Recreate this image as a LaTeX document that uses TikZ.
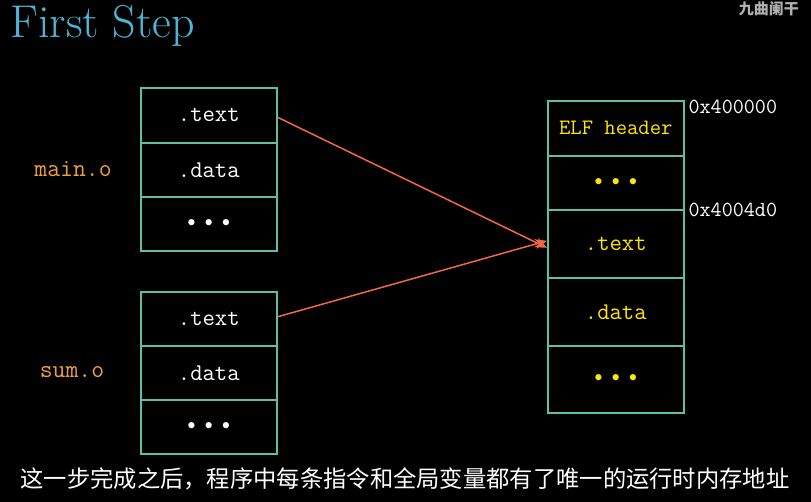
\documentclass[tikz,border=0pt]{standalone}
\usepackage{fontspec}
\newfontfamily\cjk{Noto Sans CJK SC}
\usetikzlibrary{arrows.meta}
\definecolor{boxc}{HTML}{5CBFA6}
\definecolor{titlec}{HTML}{4DB5D6}
\definecolor{arrowc}{HTML}{F06848}
\definecolor{orangec}{HTML}{F0A040}
\definecolor{yellowc}{HTML}{FFE800}
\definecolor{wmc}{HTML}{B0B0B0}
\tikzset{
  cell/.style={draw=boxc, line width=1.6pt, minimum width=136pt, inner sep=0pt, font=\ttfamily\fontsize{24}{24}\selectfont, anchor=north west},
  wcell/.style={cell, text=white},
  ycell/.style={cell, text=yellowc},
  lab/.style={text=orangec, font=\ttfamily\fontsize{25}{25}\selectfont},
  addr/.style={text=white, font=\ttfamily\fontsize{21.5}{21.5}\selectfont, anchor=west},
  link/.style={draw=arrowc, line width=1.5pt, -{Stealth[length=12pt,width=10pt]}}
}
\newcommand{\mydots}{\textbullet\hspace{5pt}\textbullet\hspace{5pt}\textbullet}
\begin{document}
\begin{tikzpicture}[x=1pt,y=-1pt]
\fill[black] (0,0) rectangle (811,502);
\useasboundingbox (0,0) rectangle (811,502);
\node[anchor=west, text=titlec, font=\fontsize{46}{46}\selectfont] (title) at (7,26) {First Step};
\node[anchor=north east, text=wmc, font=\cjk\bfseries\fontsize{15}{15}\selectfont, inner sep=1pt] (wm) at (800,0) {九曲阑干};
% main.o
\node[wcell, minimum height=55pt] (m1) at (140,87) {.text};
\node[wcell, minimum height=54pt] (m2) at (140,142) {.data};
\node[wcell, minimum height=54pt] (m3) at (140,196) {\mydots};
\node[lab] (mlab) at (73,169) {main.o};
% sum.o
\node[wcell, minimum height=54pt] (s1) at (140,291) {.text};
\node[wcell, minimum height=54pt] (s2) at (140,345) {.data};
\node[wcell, minimum height=54pt] (s3) at (140,399) {\mydots};
\node[lab] (slab) at (72,372) {sum.o};
% executable
\node[ycell, minimum height=55pt, font=\ttfamily\fontsize{22}{22}\selectfont] (e1) at (547,100) {ELF header};
\node[ycell, minimum height=54pt] (e2) at (547,155) {\mydots};
\node[ycell, minimum height=68pt] (e3) at (547,209) {.text};
\node[ycell, minimum height=68pt] (e4) at (547,277) {.data};
\node[ycell, minimum height=67pt] (e5) at (547,345) {\mydots};
\node[addr] (a1) at (685,107) {0x400000};
\node[addr] (a2) at (685,210) {0x4004d0};
% arrows
\coordinate (t1) at ([yshift=-4pt]e3.west);
\coordinate (t2) at ([yshift=3pt]e3.west);
\draw[link] ([yshift=-2pt]m1.east) -- (t1);
\draw[link] ([yshift=2pt]s1.east) -- (t2);
% caption
\node[text=white, font=\cjk\fontsize{23.3}{23.3}\selectfont] (cap) at (405,479) {这一步完成之后，程序中每条指令和全局变量都有了唯一的运行时内存地址};
\end{tikzpicture}
\end{document}
